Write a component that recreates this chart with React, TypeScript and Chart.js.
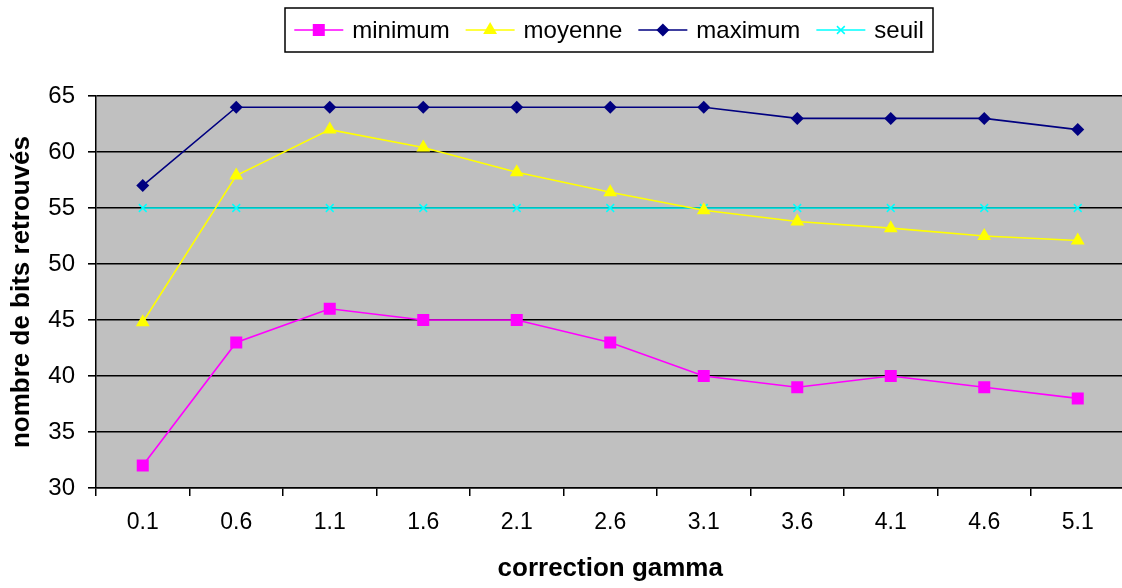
import React, { useEffect, useRef } from "react";
import { Chart, registerables } from "chart.js";

Chart.register(...registerables);

const categories = ["0.1", "0.6", "1.1", "1.6", "2.1", "2.6", "3.1", "3.6", "4.1", "4.6", "5.1"];
const minimumValues = [32, 43, 46, 45, 45, 43, 40, 39, 40, 39, 38];
const moyenneValues = [44.8, 57.9, 62, 60.4, 58.2, 56.4, 54.8, 53.8, 53.2, 52.5, 52.1];
const maximumValues = [57, 64, 64, 64, 64, 64, 64, 63, 63, 63, 62];
const seuilValues = [55, 55, 55, 55, 55, 55, 55, 55, 55, 55, 55];

const FONT = "'Liberation Sans', Arial, sans-serif";

const plotBg = {
  id: "plotBg",
  beforeDraw(chart: any) {
    const { ctx, chartArea } = chart;
    ctx.save();
    ctx.fillStyle = "#C0C0C0";
    ctx.fillRect(chartArea.left, chartArea.top, chartArea.right - chartArea.left, chartArea.bottom - chartArea.top);
    ctx.restore();
  },
};

function drawMarker(ctx: any, style: string, r: number, x: number, y: number, fill: string, stroke: string) {
  ctx.save();
  ctx.fillStyle = fill;
  ctx.strokeStyle = stroke;
  ctx.lineWidth = 1.5;
  ctx.beginPath();
  if (style === "rect") {
    const s = Math.SQRT1_2 * r;
    ctx.rect(x - s, y - s, 2 * s, 2 * s);
    ctx.fill();
  } else if (style === "triangle") {
    ctx.moveTo(x, y - r);
    ctx.lineTo(x + Math.sin((2 * Math.PI) / 3) * r, y + 0.5 * r);
    ctx.lineTo(x - Math.sin((2 * Math.PI) / 3) * r, y + 0.5 * r);
    ctx.closePath();
    ctx.fill();
  } else if (style === "rectRot") {
    ctx.moveTo(x - r, y);
    ctx.lineTo(x, y - r);
    ctx.lineTo(x + r, y);
    ctx.lineTo(x, y + r);
    ctx.closePath();
    ctx.fill();
  } else if (style === "crossRot") {
    const o = Math.SQRT1_2 * r;
    ctx.moveTo(x - o, y - o);
    ctx.lineTo(x + o, y + o);
    ctx.moveTo(x - o, y + o);
    ctx.lineTo(x + o, y - o);
    ctx.stroke();
  }
  ctx.restore();
}

const boxLegend = {
  id: "boxLegend",
  afterDraw(chart: any) {
    const { ctx } = chart;
    const boxL = 285, boxT = 8, boxR = 933, boxB = 52;
    ctx.save();
    ctx.fillStyle = "#fff";
    ctx.fillRect(boxL, boxT, boxR - boxL, boxB - boxT);
    ctx.strokeStyle = "#000";
    ctx.lineWidth = 1.5;
    ctx.strokeRect(boxL, boxT, boxR - boxL, boxB - boxT);
    ctx.font = `24px ${FONT}`;
    ctx.textBaseline = "middle";
    ctx.textAlign = "left";
    const lineLen = 49, gapText = 9, gapItem = 16;
    const ds = chart.data.datasets;
    let total = 0;
    ds.forEach((d: any, i: number) => {
      total += lineLen + gapText + ctx.measureText(d.label).width + (i < ds.length - 1 ? gapItem : 0);
    });
    let x = (boxL + boxR) / 2 - total / 2;
    const y = 30;
    ds.forEach((d: any) => {
      ctx.strokeStyle = d.borderColor;
      ctx.lineWidth = 1.5;
      ctx.beginPath();
      ctx.moveTo(x, y);
      ctx.lineTo(x + lineLen, y);
      ctx.stroke();
      drawMarker(ctx, d.pointStyle, d.pointRadius, x + lineLen / 2, y, d.pointBackgroundColor, d.pointBorderColor);
      x += lineLen + gapText;
      ctx.fillStyle = "#000";
      ctx.fillText(d.label, x, y + 1);
      x += ctx.measureText(d.label).width + gapItem;
    });
    ctx.restore();
  },
};

export default function App() {
  const ref = useRef<HTMLCanvasElement | null>(null);

  useEffect(() => {
    if (!ref.current) return;
    const mk = (label: string, data: number[], color: string, style: string, r: number) => ({
      label,
      data,
      borderColor: color,
      backgroundColor: color,
      pointBackgroundColor: color,
      pointBorderColor: color,
      pointStyle: style,
      pointRadius: r,
      pointBorderWidth: style === "crossRot" ? 1.5 : 0,
      borderWidth: 1.6,
      tension: 0,
      fill: false,
    });
    const chart = new Chart(ref.current, {
      type: "line",
      data: {
        labels: categories,
        datasets: [
          mk("minimum", minimumValues, "#FF00FF", "rect", 8.5),
          mk("moyenne", moyenneValues, "#FFFF00", "triangle", 8),
          mk("maximum", maximumValues, "#000080", "rectRot", 6.5),
          mk("seuil", seuilValues, "#00FFFF", "crossRot", 5.5),
        ] as any,
      },
      options: {
        responsive: false,
        animation: false,
        devicePixelRatio: 1,
        layout: { padding: { top: 96, right: 1.5, left: 0, bottom: 0 } },
        plugins: {
          legend: { display: false },
          tooltip: { enabled: false },
        },
        scales: {
          x: {
            type: "category",
            offset: true,
            afterFit: (s: any) => {
              s.height = 100;
            },
            grid: {
              offset: true,
              drawOnChartArea: false,
              drawTicks: true,
              tickLength: 8,
              color: "#000",
              lineWidth: 1.5,
            },
            border: { display: true, color: "#000", width: 1.5 },
            ticks: {
              color: "#000",
              font: { family: FONT, size: 23 },
              padding: 13,
              maxRotation: 0,
              autoSkip: false,
            },
            title: {
              display: true,
              text: "correction gamma",
              color: "#000",
              font: { family: FONT, size: 26, weight: "bold" },
              padding: { top: 0, bottom: 4 },
            },
          },
          y: {
            min: 30,
            max: 65,
            afterFit: (s: any) => {
              s.width = 96;
            },
            grid: {
              drawOnChartArea: true,
              drawTicks: true,
              tickLength: 8,
              color: "#000",
              lineWidth: 1.6,
            },
            border: { display: true, color: "#000", width: 1.5 },
            ticks: {
              stepSize: 5,
              color: "#000",
              font: { family: FONT, size: 24 },
              padding: 13,
            },
            title: {
              display: true,
              text: "nombre de bits retrouvés",
              color: "#000",
              font: { family: FONT, size: 26, weight: "bold" },
              padding: { top: 6, bottom: 0 },
            },
          },
        },
      } as any,
      plugins: [plotBg, boxLegend],
    });
    return () => chart.destroy();
  }, []);

  return (
    <div style={{ position: "absolute", left: 0, top: 0, width: 1122, height: 588, overflow: "hidden", background: "#fff" }}>
      <canvas ref={ref} width={1133} height={588} style={{ display: "block" }} />
    </div>
  );
}
